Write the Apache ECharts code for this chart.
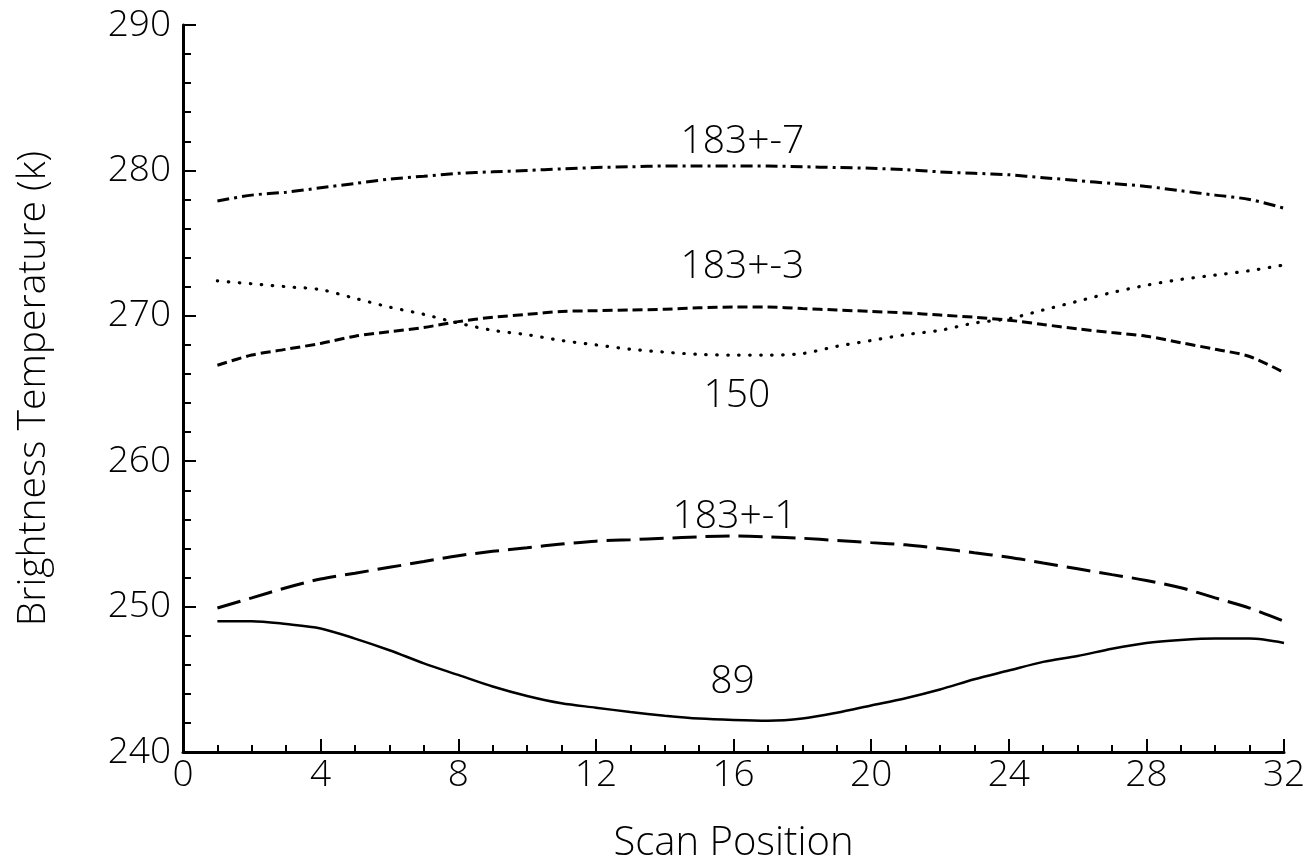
<!DOCTYPE html>
<html>
<head>
<meta charset="utf-8">
<script src="https://cdn.jsdelivr.net/npm/echarts@6/dist/echarts.min.js"></script>
<style>
html,body{margin:0;padding:0;background:#fff;}
#c{width:1316px;height:863px;}
</style>
</head>
<body>
<div id="c"></div>
<script>
var scanPos = [1,2,3,4,5,6,7,8,9,10,11,12,13,14,15,16,17,18,19,20,21,22,23,24,25,26,27,28,29,30,31,32];
var tb89 = [249.0,249.0,248.8,248.5,247.8,247.0,246.1,245.3,244.5,243.85,243.35,243.05,242.75,242.5,242.3,242.2,242.15,242.3,242.7,243.2,243.7,244.3,245.0,245.6,246.2,246.6,247.1,247.5,247.7,247.8,247.8,247.5];
var tb150 = [272.4,272.2,272.0,271.8,271.2,270.6,270.1,269.5,269.0,268.7,268.3,268.0,267.7,267.5,267.35,267.3,267.3,267.4,267.9,268.3,268.7,269.0,269.5,269.8,270.4,271.0,271.6,272.1,272.5,272.8,273.1,273.5];
var tb183p1 = [249.9,250.6,251.3,251.9,252.3,252.7,253.1,253.5,253.8,254.05,254.3,254.5,254.6,254.7,254.8,254.85,254.8,254.7,254.55,254.4,254.25,254.0,253.7,253.4,253.0,252.6,252.2,251.8,251.3,250.6,249.9,249.0];
var tb183p3 = [266.6,267.3,267.7,268.1,268.6,268.9,269.2,269.6,269.9,270.1,270.3,270.35,270.4,270.45,270.55,270.6,270.6,270.5,270.4,270.3,270.2,270.05,269.9,269.7,269.4,269.1,268.85,268.6,268.15,267.7,267.2,266.1];
var tb183p7 = [277.9,278.3,278.5,278.8,279.1,279.4,279.6,279.8,279.9,280.0,280.1,280.2,280.25,280.3,280.3,280.3,280.3,280.25,280.2,280.15,280.05,279.9,279.8,279.7,279.5,279.3,279.1,278.9,278.6,278.3,278.0,277.4];
var labelTexts = ['183+-7','183+-3','150','183+-1','89'];
var labelX = [16.26,16.26,16.1,16.03,15.97];
var labelY = [281.95,273.35,264.5,256.15,244.8];

var FONT = 'Open Sans';
var FW = 300;
function pairs(xs, ys){ return xs.map(function(x,i){ return [x, ys[i]]; }); }
function lineSeries(name, ys, dash, w, cap){
  return {
    name: name, type: 'line', data: pairs(scanPos, ys), showSymbol: false, smooth: 0.3,
    lineStyle: {color: '#000', width: w, type: dash, cap: cap || 'butt'},
    silent: true, animation: false
  };
}
var chart = echarts.init(document.getElementById('c'), null, {renderer: 'canvas'});
chart.setOption({
  backgroundColor: '#fff',
  animation: false,
  grid: {left: 183, right: 32, top: 25, bottom: 111, containLabel: false, outerBoundsMode: 'none'},
  xAxis: {
    type: 'value', min: 0, max: 32, interval: 4,
    name: 'Scan Position', nameLocation: 'middle', nameGap: 72,
    nameTextStyle: {fontFamily: FONT, fontSize: 40, fontWeight: FW, color: '#000'},
    axisLine: {show: true, onZero: false, lineStyle: {color: '#000', width: 3}},
    axisTick: {show: true, inside: true, length: 13, lineStyle: {color: '#000', width: 2}},
    minorTick: {show: true, splitNumber: 4, length: 7, lineStyle: {color: '#000', width: 2}},
    axisLabel: {fontFamily: FONT, fontSize: 37, fontWeight: FW, color: '#000', margin: 5},
    splitLine: {show: false}
  },
  yAxis: {
    type: 'value', min: 240, max: 290, interval: 10,
    name: 'Brightness Temperature (k)', nameLocation: 'middle', nameGap: 130,
    nameTextStyle: {fontFamily: FONT, fontSize: 39, fontWeight: FW, color: '#000'},
    axisLine: {show: true, lineStyle: {color: '#000', width: 3}},
    axisTick: {show: true, inside: true, length: 13, lineStyle: {color: '#000', width: 2}},
    minorTick: {show: true, splitNumber: 5, length: 8, lineStyle: {color: '#000', width: 2}},
    axisLabel: {fontFamily: FONT, fontSize: 37, fontWeight: FW, color: '#000', margin: 12},
    splitLine: {show: false}
  },
  series: [
    lineSeries('89', tb89, 'solid', 2.5),
    lineSeries('150', tb150, [0.5, 10.5], 3.2, 'round'),
    lineSeries('183+-1', tb183p1, [24, 9], 3),
    lineSeries('183+-3', tb183p3, [10, 5], 3),
    lineSeries('183+-7', tb183p7, [12, 5, 3, 5], 3),
    {
      type: 'scatter', symbolSize: 0, silent: true, animation: false,
      itemStyle: {opacity: 1},
      data: labelTexts.map(function(t, i){ return {value: [labelX[i], labelY[i]], name: t}; }),
      label: {show: true, position: 'inside', formatter: function(p){ return p.name; },
        fontFamily: FONT, fontSize: 39, fontWeight: FW, color: '#000'}
    }
  ]
});
</script>
</body>
</html>
